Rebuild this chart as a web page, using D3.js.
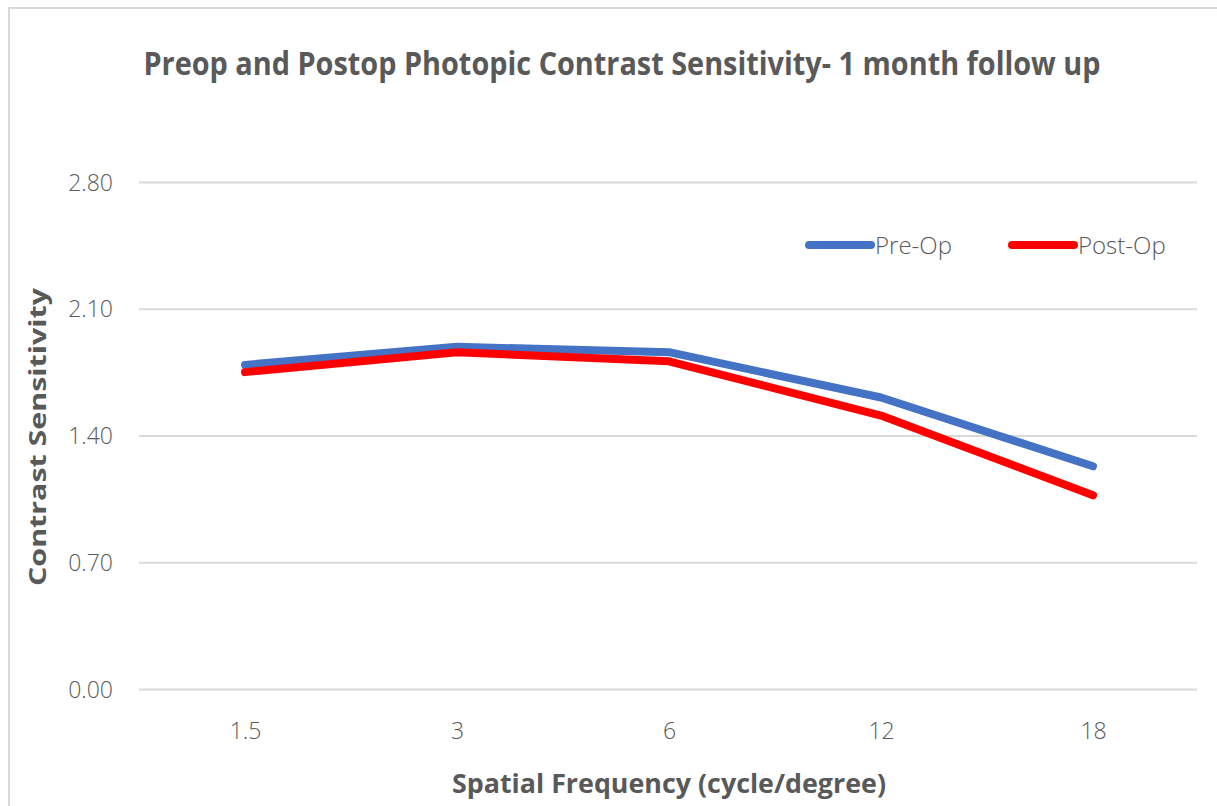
<!DOCTYPE html>
<html><head><meta charset="utf-8">
<script src="https://cdn.jsdelivr.net/npm/d3@7"></script>
<style>body{margin:0;background:#fff}svg{display:block}</style>
</head><body>
<svg id="chart" width="1217" height="806"></svg>
<script>
const categories = ["1.5", "3", "6", "12", "18"];
const preOp = [1.79, 1.89, 1.86, 1.61, 1.23];
const postOp = [1.75, 1.86, 1.81, 1.51, 1.07];
const yTicks = [0, 0.7, 1.4, 2.1, 2.8];
const seriesNames = ["Pre-Op", "Post-Op"];
const seriesColors = ["#4472C4", "#FF0000"];

const svg = d3.select("#chart");
const W = 1217, H = 806;
const m = {left: 139, right: 1199, top: 182, bottom: 689};

// chart border
svg.append("rect").attr("x", 9).attr("y", 8).attr("width", W + 20).attr("height", H + 20)
  .attr("fill", "#fff").attr("stroke", "#d9d9d9").attr("stroke-width", 2);

const x = d3.scalePoint().domain(categories).range([m.left, m.right]).padding(0.5);
const y = d3.scaleLinear().domain([0, 2.8]).range([m.bottom, m.top]);

// gridlines
const yAxis = d3.axisLeft(y).tickValues(yTicks).tickFormat(d3.format(".2f"))
  .tickSize(-(1197 - m.left)).tickPadding(26);
const gy = svg.append("g").attr("transform", `translate(${m.left},0)`).call(yAxis);
gy.select(".domain").remove();
gy.selectAll(".tick line").attr("stroke", "#d9d9d9").attr("stroke-width", 2);
gy.selectAll(".tick text").attr("fill", "#595959").attr("font-family", "'Open Sans', sans-serif")
  .attr("font-size", 23).attr("font-weight", 300).attr("dy", "0.35em");

const xAxis = d3.axisBottom(x).tickSize(0).tickPadding(34);
const gx = svg.append("g").attr("transform", `translate(0,${m.bottom})`).call(xAxis);
gx.select(".domain").remove();
gx.selectAll(".tick text").attr("fill", "#595959").attr("font-family", "'Open Sans', sans-serif")
  .attr("font-size", 23).attr("font-weight", 300);

// lines
const line = d3.line().x((d, i) => x(categories[i])).y(d => y(d));
[preOp, postOp].forEach((s, k) => {
  svg.append("path").datum(s).attr("d", line).attr("fill", "none")
    .attr("stroke", seriesColors[k]).attr("stroke-width", 8)
    .attr("stroke-linecap", "round").attr("stroke-linejoin", "round");
});

// title
svg.append("text").attr("x", 622).attr("y", 75).attr("text-anchor", "middle")
  .attr("font-family", "'Open Sans', sans-serif").attr("font-weight", "bold")
  .attr("font-size", 32).attr("fill", "#595959")
  .attr("textLength", 957).attr("lengthAdjust", "spacingAndGlyphs")
  .text("Preop and Postop Photopic Contrast Sensitivity- 1 month follow up");

// axis titles
svg.append("text").attr("x", 669).attr("y", 793).attr("text-anchor", "middle")
  .attr("font-family", "'Open Sans', sans-serif").attr("font-weight", "bold")
  .attr("font-size", 27).attr("fill", "#595959")
  .attr("textLength", 434).attr("lengthAdjust", "spacingAndGlyphs")
  .text("Spatial Frequency (cycle/degree)");

svg.append("text").attr("transform", "translate(46,437) rotate(-90)").attr("text-anchor", "middle")
  .attr("font-family", "'Open Sans', sans-serif").attr("font-weight", "bold")
  .attr("font-size", 23).attr("fill", "#595959")
  .attr("textLength", 298).attr("lengthAdjust", "spacingAndGlyphs")
  .text("Contrast Sensitivity");

// legend
const legX = [809, 1012];
seriesNames.forEach((n, k) => {
  svg.append("line").attr("x1", legX[k]).attr("x2", legX[k] + 62).attr("y1", 245).attr("y2", 245)
    .attr("stroke", seriesColors[k]).attr("stroke-width", 8).attr("stroke-linecap", "round");
  svg.append("text").attr("x", legX[k] + 66).attr("y", 254)
    .attr("font-family", "'Open Sans', sans-serif").attr("font-size", 24).attr("font-weight", 300)
    .attr("fill", "#595959")
    .text(n);
});
</script>
</body></html>
